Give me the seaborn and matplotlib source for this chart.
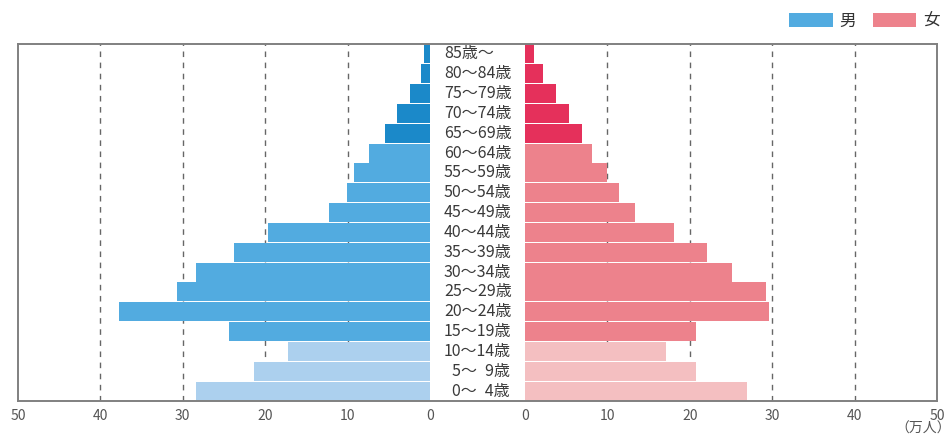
import numpy as np
import pandas as pd
import matplotlib
matplotlib.use("Agg")
import matplotlib.pyplot as plt
import matplotlib.transforms as mtransforms
from matplotlib.patches import Patch
import seaborn as sns

# DATA (万人)
ages = ["85歳～", "80～84歳", "75～79歳", "70～74歳", "65～69歳", "60～64歳",
        "55～59歳", "50～54歳", "45～49歳", "40～44歳", "35～39歳", "30～34歳",
        "25～29歳", "20～24歳", "15～19歳", "10～14歳",
        "\u20025～\u20029歳", "\u20020～\u20024歳"]
male = [0.7, 1.1, 2.4, 4.0, 5.5, 7.4, 9.2, 10.1, 12.3, 19.7, 23.8, 28.4,
        30.7, 37.7, 24.4, 17.2, 21.4, 28.4]
female = [1.1, 2.2, 3.8, 5.4, 6.9, 8.1, 9.9, 11.4, 13.3, 18.1, 22.1, 25.1,
          29.2, 29.6, 20.8, 17.1, 20.8, 27.0]
groups = ["65+"] * 5 + ["15-64"] * 10 + ["0-14"] * 3
xticks = [0, 10, 20, 30, 40, 50]

male_pal = {"65+": "#1b89c9", "15-64": "#52abe0", "0-14": "#acd0ee"}
female_pal = {"65+": "#e5305b", "15-64": "#ed828c", "0-14": "#f4bfc1"}

# CONFIG
sns.set_style("white")
plt.rcParams["font.family"] = ["Noto Sans CJK JP", "DejaVu Sans"]

df = pd.DataFrame({"age": ages, "male": male, "female": female, "group": groups})

W, H = 953, 438
fig = plt.figure(figsize=(W / 100, H / 100), dpi=100)

left, right, top, bottom = 18, 937, 44, 401
half_w = 412
ax_frame = fig.add_axes([left / W, 1 - bottom / H, (right - left) / W, (bottom - top) / H])
ax_l = fig.add_axes([left / W, 1 - bottom / H, half_w / W, (bottom - top) / H])
ax_r = fig.add_axes([(right - half_w) / W, 1 - bottom / H, half_w / W, (bottom - top) / H])

# frame round whole chart
ax_frame.set_xticks([])
ax_frame.set_yticks([])
ax_frame.patch.set_alpha(0)
for s in ax_frame.spines.values():
    s.set_color("#808080")
    s.set_linewidth(1.4)
ax_frame.set_zorder(5)

for ax, col, pal in [(ax_l, "male", male_pal), (ax_r, "female", female_pal)]:
    ax.set_axisbelow(True)
    for xv in xticks[1:-1]:
        ax.axvline(xv, color="#666666", lw=1, ls=(0, (4, 4)), zorder=0)
    sns.barplot(data=df, x=col, y="age", hue="group", palette=pal, dodge=False,
                width=0.95, order=ages, legend=False, ax=ax, saturation=1,
                edgecolor="none", zorder=2)
    ax.set_xlim(0, 50)
    ax.set_ylim(17.5, -0.5)
    ax.set_xticks(xticks)
    ax.set_xticklabels([str(v) for v in xticks])
    ax.set_yticks([])
    ax.set_xlabel("")
    ax.set_ylabel("")
    ax.tick_params(axis="x", length=0, pad=6, labelsize=10, labelcolor="#555555")
    for s in ax.spines.values():
        s.set_visible(False)
    ax.patch.set_alpha(0)

ax_l.invert_xaxis()

# age labels in the middle
trans = mtransforms.blended_transform_factory(fig.transFigure, ax_r.transData)
for i, lab in enumerate(ages):
    ax_r.text(444 / W, i, lab, transform=trans, ha="left", va="center",
              fontsize=11.5, color="#3a3a3a", clip_on=False)

fig.text(951 / W, 1 - 429 / H, "（万人）", ha="right", va="center",
         fontsize=10, color="#555555")

handles = [Patch(facecolor=male_pal["15-64"], edgecolor="none"),
           Patch(facecolor=female_pal["15-64"], edgecolor="none")]
fig.legend(handles, ["男", "女"], loc="upper right", bbox_to_anchor=(946 / W, 1 - 6 / H),
           ncol=2, frameon=False, fontsize=12, handlelength=2.6, handleheight=0.95,
           handletextpad=0.4, columnspacing=1.0, borderaxespad=0, labelcolor="#333333")

fig.savefig("out.png", dpi=100)
